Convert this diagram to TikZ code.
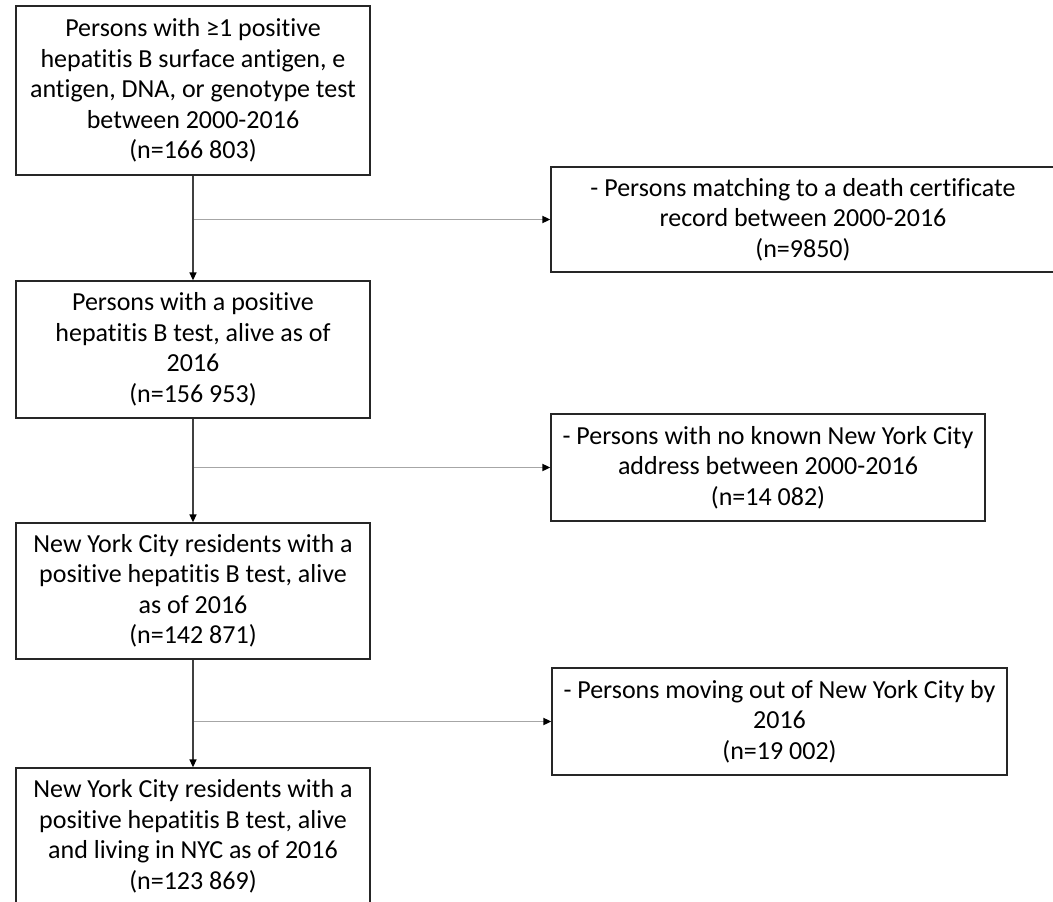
\documentclass[tikz,border=0pt]{standalone}
\usepackage{fontspec}
\setmainfont{Carlito}[Ligatures=NoCommon]
\usetikzlibrary{arrows.meta,positioning}

\begin{document}
\begin{tikzpicture}[x=1pt,y=-1pt,
  box/.style={draw=black!85,line width=1.3pt,align=center,inner sep=0pt,
    font=\fontsize{26}{30.5}\selectfont},
  flow/.style={draw=black!75,line width=1.3pt,-{Triangle[length=8pt,width=7pt,color=black]}},
  gate/.style={draw=black!35,line width=1.8pt,-{Triangle[length=8pt,width=7pt,color=black]}}]
\useasboundingbox (0,0) rectangle (1053,902);
%left column
\node[box,minimum width=354pt,minimum height=169pt] (all) at (193,90.5)
  {Persons with ≥1 positive\\hepatitis B surface antigen, e\\antigen, DNA, or genotype test\\between 2000-2016\\(n=166 803)};
\node[box,minimum width=354pt,minimum height=137pt] (alive) at (193,349.5)
  {Persons with a positive\\hepatitis B test, alive as of\\2016\\(n=156 953)};
\node[box,minimum width=354pt,minimum height=136pt] (nyc) at (193,591)
  {New York City residents with a\\positive hepatitis B test, alive\\as of 2016\\(n=142 871)};
\node[box,minimum width=354pt,minimum height=137pt] (final) at (193,836.5)
  {New York City residents with a\\positive hepatitis B test, alive\\and living in NYC as of 2016\\(n=123 869)};
%exclusions
\node[box,minimum width=504pt,minimum height=105pt] (death) at (803,219.5)
  {- Persons matching to a death certificate\\record between 2000-2016\\(n=9850)};
\node[box,minimum width=434pt,minimum height=107pt] (noaddr) at (768,467.5)
  {- Persons with no known New York City\\address between 2000-2016\\(n=14 082)};
\node[box,minimum width=455pt,minimum height=107pt] (moved) at (779.5,721.5)
  {- Persons moving out of New York City by\\2016\\(n=19 002)};
\coordinate (b1) at (all.south |- death.west);
\coordinate (b2) at (alive.south |- noaddr.west);
\coordinate (b3) at (nyc.south |- moved.west);
\draw[gate] (b1) -- (death.west);
\draw[gate] (b2) -- (noaddr.west);
\draw[gate] (b3) -- (moved.west);
\draw[flow] (all) -- (alive);
\draw[flow] (alive) -- (nyc);
\draw[flow] (nyc) -- (final);
\end{tikzpicture}
\end{document}
